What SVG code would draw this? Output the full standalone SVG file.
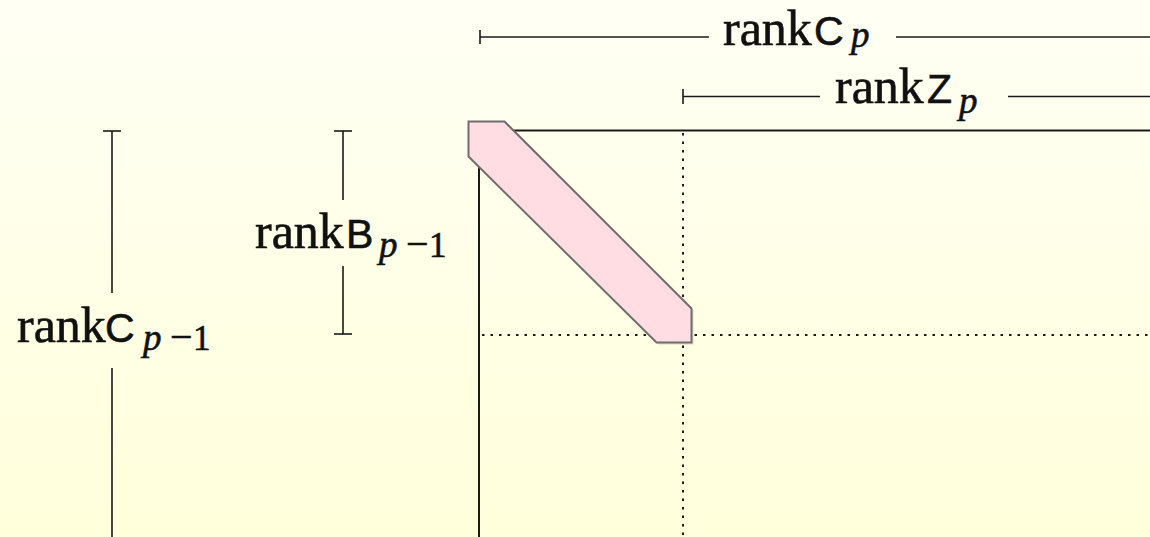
<svg xmlns="http://www.w3.org/2000/svg" width="1150" height="537" viewBox="0 0 1150 537">
<defs>
<linearGradient id="bg" x1="0" y1="0" x2="0" y2="1">
<stop offset="0" stop-color="#fffff4"/>
<stop offset="1" stop-color="#ffffdb"/>
</linearGradient>
<style>
.ln{stroke:#1a1a1a;stroke-width:1.6;fill:none}
.bx{stroke:#1a1a1a;stroke-width:2;fill:none}
.dot{stroke:#1a1a1a;stroke-width:2;fill:none;stroke-dasharray:2.5 6}
.rk{font-family:"Liberation Serif",serif;font-size:50px;fill:#111;stroke:#111;stroke-width:0.6}
tspan.sf{font-family:"Liberation Sans",sans-serif;font-size:41px}
tspan.it{font-family:"Liberation Serif",serif;font-style:italic;font-size:37px}
tspan.sb{font-family:"Liberation Serif",serif;font-size:35px}
tspan.mn{font-family:"Liberation Serif",serif;font-size:40px}
</style>
</defs>
<rect width="1150" height="537" fill="url(#bg)"/>
<g id="connectors">
<line class="ln" x1="480" y1="30" x2="480" y2="44"/>
<line class="ln" x1="480" y1="37" x2="709" y2="37"/>
<line class="ln" x1="896" y1="37" x2="1150" y2="37"/>
<line class="ln" x1="683" y1="89" x2="683" y2="104"/>
<line class="ln" x1="683" y1="96.5" x2="820" y2="96.5"/>
<line class="ln" x1="1008" y1="96.5" x2="1150" y2="96.5"/>
<line class="ln" x1="103" y1="131" x2="121" y2="131"/>
<line class="ln" x1="112" y1="131" x2="112" y2="293"/>
<line class="ln" x1="112" y1="368" x2="112" y2="537"/>
<line class="ln" x1="334" y1="131" x2="352" y2="131"/>
<line class="ln" x1="343" y1="131" x2="343" y2="200"/>
<line class="ln" x1="343" y1="266" x2="343" y2="334"/>
<line class="ln" x1="334" y1="334" x2="352" y2="334"/>
<line class="bx" x1="479" y1="130.5" x2="1150" y2="130.5"/>
<line class="bx" x1="479" y1="130" x2="479" y2="537"/>
<line class="dot" x1="683" y1="133" x2="683" y2="537"/>
<line class="dot" x1="482" y1="335" x2="1150" y2="335"/>
</g>
<g id="diag">
<polygon points="470.5,123.5 506.5,123.5 693.5,310.5 693.5,344.5 658.5,344.5 470.5,158.5" fill="#000" opacity="0.15"/>
<polygon points="468.5,121.5 504.5,121.5 691.5,308.5 691.5,342.5 656.5,342.5 468.5,156.5" fill="#ffdde2" stroke="#6e6e6e" stroke-width="2"/>
</g>
<g id="label-rankCp">
<text class="rk" y="45"><tspan x="723">rank</tspan><tspan class="sf" x="814">C</tspan><tspan class="it" x="851" y="47">p</tspan></text>
</g>
<g id="label-rankZp">
<text class="rk" y="103"><tspan x="835">rank</tspan><tspan class="sf" x="927">Z</tspan><tspan class="it" x="959" y="113">p</tspan></text>
</g>
<g id="label-rankBp1">
<text class="rk" y="248"><tspan x="255">rank</tspan><tspan class="sf" x="346">B</tspan><tspan class="it" x="379" y="257">p</tspan><tspan class="mn" x="406" y="257">−</tspan><tspan class="sb" x="429" y="257">1</tspan></text>
</g>
<g id="label-rankCp1">
<text class="rk" y="342"><tspan x="17">rank</tspan><tspan class="sf" x="105">C</tspan><tspan class="it" x="143" y="350">p</tspan><tspan class="mn" x="170" y="350">−</tspan><tspan class="sb" x="193" y="350">1</tspan></text>
</g>
</svg>
